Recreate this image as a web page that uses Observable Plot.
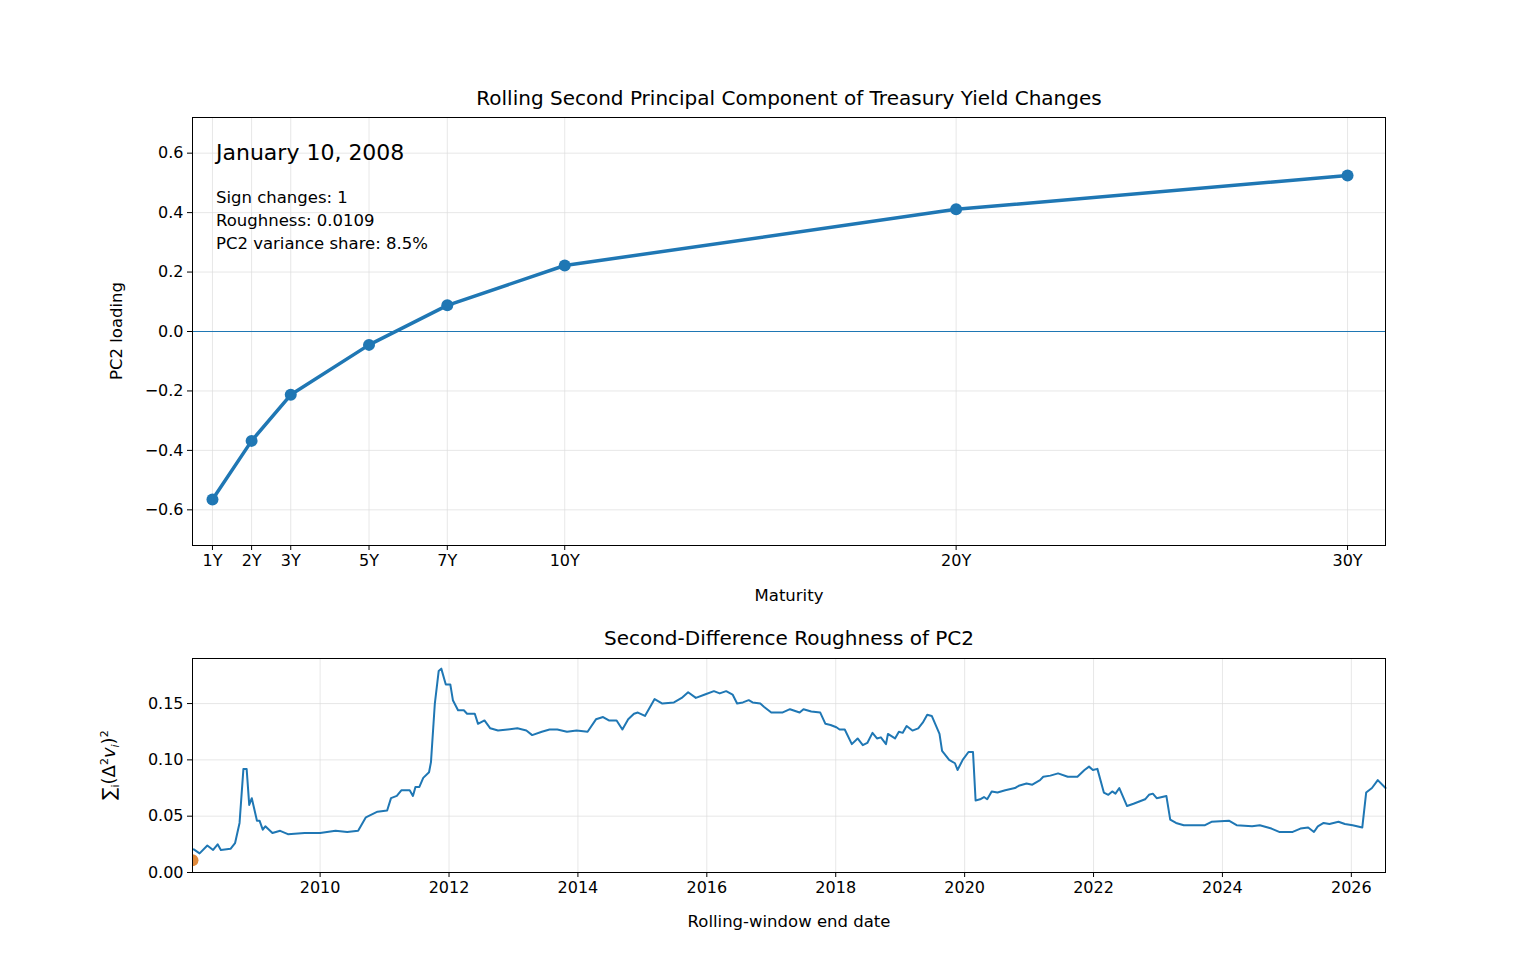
<!DOCTYPE html>
<html><head><meta charset="utf-8">
<script src="https://cdn.jsdelivr.net/npm/d3@7"></script>
<script src="https://cdn.jsdelivr.net/npm/@observablehq/plot@0.6"></script>
<style>
body{margin:0;background:#fff;font-family:"DejaVu Sans",sans-serif;}
#wrap{position:relative;width:1540px;height:980px;}
.abs{position:absolute;white-space:nowrap;color:#000;}
svg{font-family:"DejaVu Sans",sans-serif;}
</style></head>
<body><div id="wrap"></div>
<script>
const maturities = [1,2,3,5,7,10,20,30];
const maturityLabels = ["1Y","2Y","3Y","5Y","7Y","10Y","20Y","30Y"];
const loadings = [-0.565,-0.368,-0.213,-0.045,0.088,0.222,0.411,0.525];
const rollYears = [2008.04,2008.13,2008.25,2008.34,2008.41,2008.46,2008.61,2008.68,2008.75,2008.81,2008.86,2008.90,2008.94,2009.02,2009.06,2009.11,2009.15,2009.26,2009.38,2009.50,2009.76,2010.0,2010.24,2010.42,2010.59,2010.71,2010.89,2011.04,2011.10,2011.19,2011.26,2011.39,2011.44,2011.48,2011.54,2011.60,2011.69,2011.72,2011.78,2011.84,2011.88,2011.95,2012.02,2012.06,2012.14,2012.23,2012.28,2012.40,2012.45,2012.55,2012.64,2012.76,2012.91,2013.06,2013.20,2013.29,2013.44,2013.56,2013.68,2013.83,2013.98,2014.15,2014.28,2014.39,2014.48,2014.60,2014.69,2014.78,2014.87,2014.93,2015.04,2015.19,2015.31,2015.49,2015.61,2015.71,2015.83,2015.97,2016.11,2016.20,2016.30,2016.40,2016.47,2016.56,2016.65,2016.71,2016.83,2016.89,2017.00,2017.17,2017.29,2017.44,2017.50,2017.62,2017.76,2017.84,2017.92,2018.01,2018.06,2018.14,2018.25,2018.34,2018.42,2018.49,2018.57,2018.64,2018.70,2018.78,2018.81,2018.92,2018.98,2019.04,2019.10,2019.19,2019.28,2019.35,2019.42,2019.49,2019.61,2019.65,2019.76,2019.85,2019.89,2019.97,2020.06,2020.13,2020.17,2020.24,2020.30,2020.35,2020.42,2020.51,2020.63,2020.78,2020.84,2020.96,2021.05,2021.17,2021.22,2021.33,2021.45,2021.60,2021.75,2021.86,2021.93,2021.99,2022.06,2022.16,2022.23,2022.29,2022.34,2022.40,2022.52,2022.62,2022.80,2022.86,2022.92,2022.98,2023.13,2023.19,2023.28,2023.40,2023.55,2023.73,2023.83,2024.10,2024.22,2024.46,2024.58,2024.76,2024.88,2025.09,2025.21,2025.33,2025.42,2025.48,2025.57,2025.66,2025.80,2025.90,2026.02,2026.17,2026.23,2026.32,2026.41,2026.53];
const roughness = [0.0205,0.017,0.024,0.020,0.025,0.020,0.021,0.026,0.044,0.092,0.092,0.060,0.066,0.046,0.046,0.038,0.041,0.035,0.037,0.034,0.035,0.035,0.037,0.036,0.037,0.049,0.054,0.055,0.066,0.068,0.073,0.073,0.068,0.076,0.076,0.084,0.089,0.098,0.150,0.179,0.181,0.167,0.167,0.153,0.144,0.144,0.141,0.141,0.132,0.135,0.128,0.126,0.127,0.128,0.126,0.122,0.125,0.127,0.127,0.125,0.126,0.125,0.136,0.138,0.135,0.135,0.127,0.136,0.141,0.142,0.139,0.154,0.150,0.151,0.155,0.160,0.155,0.158,0.161,0.159,0.161,0.158,0.150,0.151,0.153,0.151,0.150,0.147,0.142,0.142,0.145,0.142,0.145,0.143,0.142,0.132,0.131,0.129,0.127,0.127,0.114,0.119,0.113,0.115,0.124,0.119,0.120,0.114,0.123,0.119,0.125,0.124,0.130,0.126,0.128,0.133,0.140,0.139,0.123,0.108,0.100,0.097,0.091,0.100,0.107,0.107,0.064,0.065,0.067,0.065,0.072,0.071,0.073,0.075,0.077,0.079,0.078,0.082,0.085,0.086,0.088,0.085,0.085,0.091,0.094,0.091,0.092,0.071,0.069,0.072,0.070,0.075,0.059,0.061,0.065,0.069,0.070,0.066,0.068,0.047,0.044,0.042,0.042,0.042,0.045,0.046,0.042,0.041,0.042,0.039,0.036,0.036,0.039,0.040,0.036,0.041,0.044,0.043,0.045,0.043,0.042,0.040,0.071,0.075,0.082,0.075];
const currentYear = [2008.02];
const currentRough = [0.0109];
const yearTicks = [2010,2012,2014,2016,2018,2020,2022,2024,2026];
const blue = "#1f77b4", orange = "#e08a3c";

const wrap = document.getElementById("wrap");
const topData = maturities.map((m,i)=>({m, v:loadings[i]}));
const botData = rollYears.map((y,i)=>({y, v:roughness[i]}));
const curData = currentYear.map((y,i)=>({y, v:currentRough[i]}));
const loadTicks = [-0.6,-0.4,-0.2,0,0.2,0.4,0.6];
const matFmt = (d)=>maturityLabels[maturities.indexOf(d)];

const p1 = Plot.plot({
  width:1540, height:620, marginLeft:192, marginRight:155, marginTop:117, marginBottom:75,
  style:{fontSize:"16px", fontFamily:"DejaVu Sans", background:"transparent", overflow:"visible"},
  x:{domain:[0.49,30.97]},
  y:{domain:[-0.72,0.72]},
  marks:[
    Plot.gridX(maturities,{stroke:"#ddd", strokeOpacity:0.7}),
    Plot.gridY(loadTicks,{stroke:"#ddd", strokeOpacity:0.7}),
    Plot.ruleY([0],{stroke:blue, strokeWidth:1.2}),
    Plot.line(topData,{x:"m", y:"v", stroke:blue, strokeWidth:3.5}),
    Plot.dot(topData,{x:"m", y:"v", fill:blue, r:6}),
    Plot.frame({stroke:"#000", strokeWidth:1}),
    Plot.axisX({ticks:maturities, tickFormat:matFmt, tickSize:5, tickPadding:4, fontSize:16, label:null}),
    Plot.axisY({ticks:loadTicks, tickFormat:d=>d.toFixed(1).replace("-","−"), tickSize:5, fontSize:16, label:null})
  ]
});
p1.style.position="absolute"; p1.style.left="0px"; p1.style.top="0px";
wrap.appendChild(p1);

const p2 = Plot.plot({
  width:1540, height:360, marginLeft:192, marginRight:155, marginTop:38, marginBottom:108,
  style:{fontSize:"16px", fontFamily:"DejaVu Sans", background:"transparent", overflow:"visible"},
  x:{domain:[2008.02,2026.53]},
  y:{domain:[0,0.19]},
  marks:[
    Plot.gridX(yearTicks,{stroke:"#ddd", strokeOpacity:0.7}),
    Plot.gridY([0.05,0.1,0.15],{stroke:"#ddd", strokeOpacity:0.7}),
    Plot.line(botData,{x:"y", y:"v", stroke:blue, strokeWidth:2}),
    Plot.dot(curData,{x:"y", y:"v", fill:orange, r:6, clip:"frame"}),
    Plot.frame({stroke:"#000", strokeWidth:1}),
    Plot.axisX({ticks:yearTicks, tickFormat:"d", tickSize:5, tickPadding:4, fontSize:16, label:null}),
    Plot.axisY({ticks:[0,0.05,0.1,0.15], tickFormat:d=>d.toFixed(2), tickSize:5, fontSize:16, label:null})
  ]
});
p2.style.position="absolute"; p2.style.left="0px"; p2.style.top="620px";
wrap.appendChild(p2);

function txt(s, x, y, size, opts={}){
  const d=document.createElement("div"); d.className="abs"; d.innerHTML=s;
  d.style.left=x+"px"; d.style.top=y+"px"; d.style.fontSize=size+"px";
  if(opts.center) d.style.transform="translate(-50%,-50%)";
  if(opts.rot) d.style.transform="translate(-50%,-50%) rotate(-90deg)";
  if(opts.lh) d.style.lineHeight=opts.lh+"px";
  wrap.appendChild(d);
}
txt("Rolling Second Principal Component of Treasury Yield Changes", 789, 98, 20, {center:true});
txt("January 10, 2008", 216, 140, 22);
txt("Sign changes: 1<br>Roughness: 0.0109<br>PC2 variance share: 8.5%", 216, 186, 16.5, {lh:23});
txt("PC2 loading", 116, 331, 16.5, {rot:true});
txt("Maturity", 789, 595, 16.5, {center:true});
txt("Second-Difference Roughness of PC2", 789, 638, 20, {center:true});
txt("Rolling-window end date", 789, 921, 16.5, {center:true});
txt("∑<sub style='font-size:11px'>i</sub>(Δ<sup style='font-size:11px'>2</sup><i>v<sub style='font-size:11px'>i</sub></i>)<sup style='font-size:11px'>2</sup>", 110, 765, 18, {rot:true});
</script></body></html>
